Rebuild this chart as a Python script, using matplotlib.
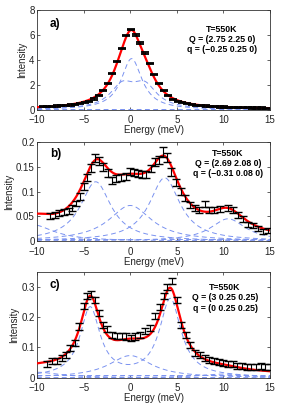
import numpy as np
import matplotlib
matplotlib.use("Agg")
import matplotlib.pyplot as plt

plt.rcParams['font.family'] = ['Liberation Sans', 'DejaVu Sans']
plt.rcParams['axes.unicode_minus'] = True

# ---------------- data ----------------
# panel a
a_x = [-9.4, -8.9, -8.4, -7.9, -7.4, -6.9, -6.4, -5.9, -5.4, -4.9, -4.4, -3.9, -3.4, -2.9,
       -2.4, -1.9, -1.4, -0.9, -0.4, 0.1, 0.6, 1.1, 1.6, 2.1, 2.6, 3.1, 3.6, 4.1, 4.6, 5.1,
       5.6, 6.1, 6.6, 7.1, 7.6, 8.1, 8.6, 9.1, 9.6, 10.1, 10.6, 11.1, 11.6, 12.1, 12.6, 13.1,
       13.6, 14.1, 14.6]
a_y = [0.24, 0.255, 0.27, 0.29, 0.31, 0.34, 0.38, 0.43, 0.49, 0.57, 0.68, 0.85, 1.13, 1.55,
       2.12, 2.90, 3.85, 4.90, 5.95, 6.42, 6.00, 5.35, 4.55, 3.68, 2.85, 2.12, 1.55, 1.12, 0.84,
       0.66, 0.55, 0.47, 0.41, 0.36, 0.32, 0.29, 0.265, 0.245, 0.225, 0.21, 0.195, 0.18, 0.17,
       0.16, 0.15, 0.14, 0.135, 0.13, 0.125]
a_err = 0.05
# fit components: (centre, amplitude, hwhm)
a_central = (0.15, 4.1, 1.35)
a_pair = [(-0.85, 1.75, 1.6), (1.55, 1.75, 1.6)]
a_bg = 0.05

# panel b
b_x = [-8.6, -8.1, -7.6, -7.1, -6.6, -6.2, -5.8, -5.4, -5.0, -4.6, -4.2, -3.8, -3.4, -2.9,
       -2.4, -2.0, -1.5, -1.0, -0.5, 0.0, 0.4, 0.8, 1.3, 1.7, 2.2, 2.7, 3.1, 3.5, 3.9, 4.4,
       4.9, 5.4, 5.9, 6.4, 6.9, 7.4, 8.0, 8.5, 9.0, 9.6, 10.5, 11.0, 11.6, 12.1, 12.6, 13.2,
       13.7, 14.3, 14.8]
b_y = [0.050, 0.053, 0.057, 0.058, 0.060, 0.066, 0.076, 0.090, 0.110, 0.128, 0.148, 0.168,
       0.163, 0.150, 0.138, 0.122, 0.127, 0.128, 0.131, 0.140, 0.139, 0.137, 0.135, 0.134,
       0.147, 0.160, 0.165, 0.180, 0.170, 0.140, 0.118, 0.100, 0.087, 0.073, 0.066, 0.063,
       0.075, 0.063, 0.062, 0.064, 0.066, 0.063, 0.053, 0.045, 0.034, 0.031, 0.026, 0.019,
       0.022]
b_err = [0.006, 0.006, 0.006, 0.006, 0.006, 0.006, 0.006, 0.007, 0.007, 0.007, 0.008, 0.008,
         0.008, 0.008, 0.008, 0.007, 0.007, 0.007, 0.007, 0.007, 0.007, 0.007, 0.007, 0.007,
         0.008, 0.008, 0.008, 0.010, 0.009, 0.008, 0.007, 0.007, 0.006, 0.006, 0.006, 0.006,
         0.006, 0.006, 0.006, 0.006, 0.006, 0.006, 0.006, 0.006, 0.005, 0.005, 0.005, 0.005,
         0.005]
b_peaks = [(-3.7, 0.12, 2.0), (3.7, 0.128, 2.0), (0.0, 0.072, 2.8), (10.5, 0.045, 2.3),
           (-10.5, 0.033, 2.8)]
b_bg = 0.004

# panel c
c_x = [-8.95, -8.4, -7.9, -7.35, -6.9, -6.45, -5.9, -5.5, -5.0, -4.6, -4.2, -3.75, -3.3,
       -2.9, -2.5, -2.0, -1.45, -0.9, -0.45, 0.1, 0.55, 1.05, 1.6, 2.15, 2.65, 3.15, 3.6, 4.0,
       4.45, 5.0, 5.45, 5.95, 6.45, 7.0, 7.5, 8.05, 8.5, 9.0, 9.5, 10.0, 10.5, 11.0, 11.5,
       12.0, 12.5, 13.0, 13.5, 14.0, 14.5, 15.0]
c_y = [0.045, 0.055, 0.055, 0.064, 0.075, 0.097, 0.114, 0.169, 0.236, 0.269, 0.275, 0.258,
       0.215, 0.175, 0.162, 0.142, 0.138, 0.137, 0.136, 0.131, 0.136, 0.142, 0.153, 0.164,
       0.203, 0.233, 0.270, 0.300, 0.319, 0.258, 0.175, 0.142, 0.108, 0.081, 0.075, 0.064,
       0.058, 0.055, 0.052, 0.048, 0.046, 0.044, 0.040, 0.038, 0.036, 0.034, 0.036, 0.040,
       0.036, 0.034]
c_err = 0.010
c_pair = [(-4.3, 0.228, 1.3), (4.3, 0.257, 1.4)]
c_peaks = [(0.0, 0.073, 2.8), (-10.0, 0.018, 3.0), (10.0, 0.012, 3.0)]
c_bg = 0.010

labels = ['a)', 'b)', 'c)']
Q_texts = ['Q = (2.75 2.25 0)', 'Q = (2.69 2.08 0)', 'Q = (3 0.25 0.25)']
q_texts = ['q = (\u22120.25 0.25 0)', 'q = (\u22120.31 0.08 0)', 'q = (0 0.25 0.25)']
T_text = 'T=550K'

# ---------------- helpers ----------------
def lor(x, p):
    c, A, g = p
    return A * g**2 / ((x - c)**2 + g**2)

E = np.linspace(-10, 15, 600)
red = '#ff0000'
blue = '#7a92f0'
dash = (0, (5, 3.5))

W, H = 299, 408
fig = plt.figure(figsize=(W / 100, H / 100), dpi=100)

def ax_rect(top_px, bot_px):
    return [37 / W, (H - bot_px) / H, 233 / W, (bot_px - top_px) / H]

axa = fig.add_axes(ax_rect(10, 109.7))
axb = fig.add_axes(ax_rect(142.3, 241))
axc = fig.add_axes(ax_rect(271.7, 377.7))

def style(ax, ylim, yticks, yticklabels):
    ax.set_xlim(-10, 15)
    ax.set_ylim(*ylim)
    ax.set_xticks([-10, -5, 0, 5, 10, 15])
    ax.set_yticks(yticks)
    ax.set_yticklabels(yticklabels)
    ax.tick_params(direction='in', length=2.5, width=0.5, labelsize=7, pad=1.8,
                   top=True, right=True, colors='#222222')
    ax.tick_params(axis='x', pad=4.0)
    for s in ax.spines.values():
        s.set_linewidth(0.6)
        s.set_color('#333333')
    ax.set_xlabel('Energy (meV)', fontsize=7, labelpad=0.0, color='#222222')
    ax.set_ylabel('Intensity', fontsize=7, labelpad=1.3, color='#222222')

def texts(ax, i, x, ys):
    kw = dict(transform=ax.transAxes, ha='center', va='center', fontsize=6.3,
              fontweight='bold')
    ax.text(x, ys[0], T_text, **kw)
    ax.text(x, ys[1], Q_texts[i], **kw)
    ax.text(x, ys[2], q_texts[i], **kw)
    ax.text(0.055, ys[3], labels[i], transform=ax.transAxes, ha='left', va='center',
            fontsize=8.5, fontweight='bold')

def errbars(ax, x, y, e):
    ax.errorbar(x, y, yerr=e, fmt='none', ecolor='black', elinewidth=0.8,
                capsize=3.0, capthick=1.0, zorder=4)

# panel a
comp_central = lor(E, a_central)
comp_pair = sum(lor(E, p) for p in a_pair)
comp_bg = np.full_like(E, a_bg)
for comp in (comp_central, comp_pair, comp_bg):
    axa.plot(E, comp, color=blue, lw=0.7, ls=dash, zorder=2)
axa.plot(E, comp_central + comp_pair + comp_bg, color=red, lw=1.6, zorder=3)
axa.errorbar(a_x, a_y, yerr=a_err, fmt='none', ecolor='black', elinewidth=0.8,
             capsize=3.2, capthick=1.3, zorder=4)
style(axa, (0, 8), [0, 2, 4, 6, 8], ['0', '2', '4', '6', '8'])
texts(axa, 0, 0.794, (0.806, 0.709, 0.599, 0.86))

# panel b
comps = [lor(E, p) for p in b_peaks] + [np.full_like(E, b_bg)]
for comp in comps:
    axb.plot(E, comp, color=blue, lw=0.7, ls=dash, zorder=2)
axb.plot(E, sum(comps), color=red, lw=1.6, zorder=3)
errbars(axb, b_x, b_y, b_err)
style(axb, (0, 0.2), [0, 0.05, 0.1, 0.15, 0.2], ['0', '0.05', '0.1', '0.15', '0.2'])
texts(axb, 1, 0.82, (0.889, 0.787, 0.679, 0.88))

# panel c
comps = [sum(lor(E, p) for p in c_pair)] + [lor(E, p) for p in c_peaks] + \
        [np.full_like(E, c_bg)]
for comp in comps:
    axc.plot(E, comp, color=blue, lw=0.7, ls=dash, zorder=2)
axc.plot(E, sum(comps), color=red, lw=1.6, zorder=3)
errbars(axc, c_x, c_y, c_err)
style(axc, (0, 0.35), [0, 0.1, 0.2, 0.3], ['0', '0.1', '0.2', '0.3'])
texts(axc, 2, 0.807, (0.849, 0.755, 0.655, 0.875))

fig.savefig('out.png', dpi=100)
